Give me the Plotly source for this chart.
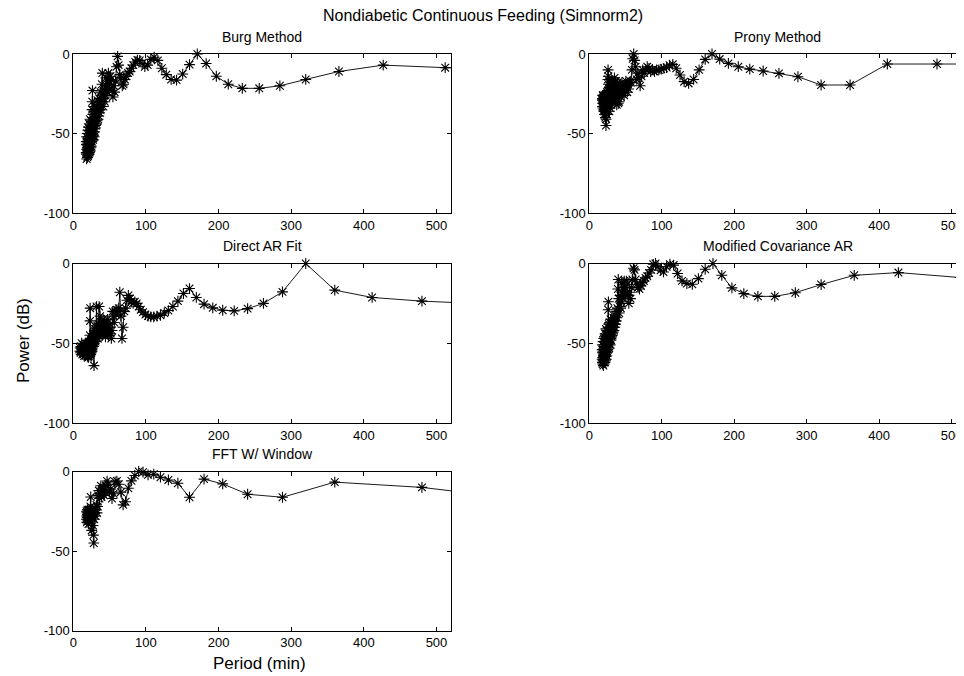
import plotly.graph_objects as go

# ---------------- data ----------------
burg_period = [640, 512, 426.7, 365.7, 320, 284.4, 256, 232.7, 213.3, 196.9,
               182.9, 170.7, 160, 150.6, 142.2, 134.7, 128, 121.9, 116.4, 111.3,
               106.7, 102.4, 98.5, 94.8, 91.4, 88.3, 85.3, 82.6, 80, 77.6,
               75.3, 73.1, 71.1, 69.2, 67.4, 65.6, 64, 62.4, 61, 59.5,
               58.2, 56.9, 55.7, 54.5, 53.3, 52.2, 51.2, 50.2, 49.2, 48.3,
               47.4, 46.5, 45.7, 44.9, 44.1, 43.4, 42.7, 42.0, 41.3, 40.6,
               40, 39.4, 38.8, 38.2, 37.6, 37.1, 36.6, 36.1, 35.6, 35.1,
               34.6, 34.1, 33.7, 33.2, 32.8, 32.4, 32, 31.6, 31.2, 30.8,
               30.5, 30.1, 29.8, 29.4, 29.1, 28.8, 28.4, 28.1, 27.8, 27.5,
               27.2, 26.9, 26.7, 26.4, 26.1, 25.9, 25.6, 25.3, 25.1, 24.8,
               24.6, 24.4, 24.2, 23.9, 23.7, 23.5, 23.3, 23.1, 22.9, 22.7,
               22.5, 22.3, 22.1, 21.9, 21.7, 21.5, 21.3, 21.1, 20.9, 20.7,
               20.5, 20.3, 20.1, 20.0, 19.8, 19.6, 19.4, 19.3, 19.1, 18.9,
               18.8, 18.6, 18.4, 18.3, 18.1, 18.0, 17.8, 17.7]
burg_power = [-9.5, -8.6, -7, -11, -16, -20, -21.6, -21.6, -19, -14,
              -6, 0, -6.7, -12.6, -16.4, -16, -13, -9, -4, -2,
              -3.4, -7, -8, -6, -4, -3.8, -5, -7, -9, -11,
              -12, -14, -16, -19, -20, -15, -13, -7, -1.5, -8,
              -17, -24, -20, -27, -23, -16, -14, -19, -22, -12,
              -17, -24, -20, -15, -26, -30, -22, -28, -33, -25,
              -12, -19, -28, -33, -24, -35, -30, -37, -28, -39,
              -32, -41, -35, -29, -42, -36, -44, -38, -33, -45,
              -38, -47, -42, -33, -49, -52, -40, -36, -51, -54,
              -44, -38, -52, -23, -30, -35, -55, -45, -53, -58,
              -42, -54, -59, -45, -55, -61, -48, -56, -41, -58,
              -50, -62, -55, -44, -59, -52, -63, -57, -46, -60,
              -53, -64, -58, -48, -61, -55, -65, -59, -50, -62,
              -56, -60, -66, -52, -57, -63, -55, -62]

modcov_period = list(burg_period)
modcov_power = [-9.5, -8.8, -5.7, -7.4, -13.2, -18.3, -20.6, -20.6, -18.9, -15.3,
                -7.4, 0, -3.6, -9.5, -13, -12.6, -10.9, -6.3, -1, -0.4,
                -2, -5.3, -4.2, -2, 0, -0.5, -4, -6, -8, -9,
                -11, -12, -14, -16, -15, -13, -10, -4, -3, -10,
                -15, -22, -18, -25, -20, -13, -11, -17, -20, -11,
                -15, -22, -18, -12, -24, -28, -20, -27, -31, -22,
                -10, -16, -28, -34, -30, -36, -33, -38, -34, -40,
                -36, -42, -38, -34, -43, -39, -45, -41, -37, -46,
                -40, -48, -43, -35, -47, -51, -42, -37, -50, -53,
                -44, -38, -50, -24, -29, -40, -54, -45, -52, -56,
                -42, -53, -58, -45, -55, -60, -47, -56, -41, -57,
                -50, -61, -54, -44, -58, -52, -62, -56, -46, -59,
                -52, -62, -57, -47, -60, -54, -64, -58, -49, -61,
                -55, -59, -63, -51, -56, -62, -54, -60]

direct_period = [576, 480, 411.4, 360, 320, 288, 261.8, 240, 221.5, 205.7,
                 192, 180, 169.4, 160, 151.6, 144, 137.1, 130.9, 125.2, 120,
                 115.2, 110.8, 106.7, 102.9, 99.3, 96, 92.9, 90, 87.3, 84.7,
                 82.3, 80, 77.8, 75.8, 73.8, 72, 70.2, 68.6, 67, 65.5,
                 64, 62.6, 61.3, 60, 58.8, 57.6, 56.5, 55.4, 54.3, 53.3,
                 52.4, 51.4, 50.5, 49.7, 48.8, 48, 47.2, 46.5, 45.7, 45,
                 44.3, 43.6, 43, 42.4, 41.7, 41.1, 40.6, 40, 39.5, 38.9,
                 38.4, 37.9, 37.4, 36.9, 36.5, 36, 35.6, 35.1, 34.7, 34.3,
                 33.9, 33.5, 33.1, 32.7, 32.4, 32, 31.6, 31.3, 31, 30.6,
                 30.3, 30, 29.7, 29.4, 29.1, 28.8, 28.5, 28.2, 27.9, 27.7,
                 27.4, 27.2, 26.9, 26.7, 26.4, 26.2, 25.9, 25.7, 25.5, 25.3,
                 25, 24.8, 24.6, 24.4, 24.2, 24, 23.8, 23.6, 23.4, 23.2,
                 23, 22.8, 22.6, 22.4, 22.3, 22.1, 21.9, 21.7, 21.6, 21.4,
                 21.2, 21.1, 20.9, 20.7, 20.6, 20.4, 20.3, 20.1, 20, 19.8,
                 19.7, 19.5, 19.4, 19.2, 19.1, 19, 18.5, 18, 17.5, 17,
                 16.5, 16, 15.5, 15, 14.5, 14, 13.5, 13, 12.5, 12,
                 11.5, 11, 10.5, 10, 9.5, 9]
direct_power = [-25.5, -23.6, -21.3, -16.7, 0, -17.8, -25, -28.3, -29.7, -29.3,
                -27.8, -25.5, -21.3, -15.7, -18.8, -23.6, -27, -29.5, -31, -32.5,
                -33, -33.5, -33.5, -33, -32, -30.5, -29, -27, -25, -24,
                -25, -24, -22, -20, -23, -28, -30, -40, -47, -33,
                -18, -28, -30, -29, -32, -30, -37, -33, -30, -42,
                -47, -44, -38, -42, -45, -40, -35, -43, -38, -41,
                -46, -39, -36, -44, -40, -35, -42, -38, -45, -41,
                -37, -43, -39, -33, -44, -40, -27, -38, -44, -41,
                -47, -43, -39, -45, -42, -27, -40, -46, -43, -49,
                -45, -41, -48, -44, -50, -46, -64, -49, -45, -52,
                -48, -44, -51, -47, -53, -49, -55, -51, -47, -54,
                -50, -56, -52, -48, -55, -51, -57, -53, -49, -28,
                -36, -45, -54, -50, -57, -53, -49, -56, -52, -58,
                -54, -50, -57, -53, -59, -55, -51, -58, -54, -56,
                -52, -58, -55, -53, -57, -54, -55, -52, -57, -54,
                -50, -56, -53, -58, -54, -51, -56, -53, -57, -54,
                -50, -55, -52, -56, -53, -55]

prony_period = [576, 480, 411.4, 360, 320, 288, 261.8, 240, 221.5, 205.7,
                192, 180, 169.4, 160, 151.6, 144, 137.1, 130.9, 125.2, 120,
                115.2, 110.8, 106.7, 102.9, 99.3, 96, 92.9, 90, 87.3, 84.7,
                82.3, 80, 77.8, 75.8, 73.8, 72, 70.2, 68.6, 67, 65.5,
                64, 62.6, 61.3, 60, 58.8, 57.6, 56.5, 55.4, 54.3, 53.3,
                52.4, 51.4, 50.5, 49.7, 48.8, 48, 47.2, 46.5, 45.7, 45,
                44.3, 43.6, 43, 42.4, 41.7, 41.1, 40.6, 40, 39.5, 38.9,
                38.4, 37.9, 37.4, 36.9, 36.5, 36, 35.6, 35.1, 34.7, 34.3,
                33.9, 33.5, 33.1, 32.7, 32.4, 32, 31.6, 31.3, 31, 30.6,
                30.3, 30, 29.7, 29.4, 29.1, 28.8, 28.5, 28.2, 27.9, 27.7,
                27.4, 27.2, 26.9, 26.7, 26.4, 26.2, 25.9, 25.7, 25.5, 25.3,
                25, 24.8, 24.6, 24.4, 24.2, 24, 23.8, 23.6, 23.4, 23.2,
                23, 22.8, 22.6, 22.4, 22.3, 22.1, 21.9, 21.7, 21.6, 21.4,
                21.2, 21.1, 20.9, 20.7, 20.6, 20.4, 20.3, 20.1, 20, 19.8,
                19.7, 19.5, 19.4, 19.2, 19.1, 19, 18.8, 18.7, 18.6, 18.4,
                18.3, 18.2, 18]
prony_power = [-6.3, -6.3, -6.3, -19.5, -19.5, -14.3, -12.2, -10.7, -9.5, -8,
               -5.9, -3.2, 0, -3.4, -10, -16, -18.5, -17.4, -13.2, -9,
               -6.5, -7, -8.5, -9, -9.5, -10, -10, -11, -10, -11,
               -9, -8, -10, -12, -10, -14, -20, -15, -12, -16,
               -8, -4, 0, -3, -10, -18, -17, -18, -22, -19,
               -24, -20, -17, -23, -21, -26, -22, -20, -24, -18,
               -21, -27, -23, -19, -25, -30, -26, -31, -22, -18,
               -24, -32, -27, -21, -17, -23, -28, -20, -15, -22,
               -26, -19, -24, -29, -21, -17, -25, -30, -23, -18,
               -26, -32, -24, -20, -28, -34, -25, -21, -29, -36,
               -27, -22, -30, -25, -19, -14, -10, -16, -23, -31,
               -27, -35, -29, -24, -32, -38, -30, -26, -34, -41,
               -45, -37, -31, -27, -35, -40, -33, -28, -36, -31,
               -26, -34, -38, -30, -27, -35, -32, -28, -36, -30,
               -27, -33, -29, -26, -31, -28, -34, -29, -26, -31,
               -28, -33, -29]

fft_period = [720, 480, 360, 288, 240, 205.7, 180, 160, 144, 130.9,
              120, 110.8, 102.9, 96, 90, 84.7, 80, 75.8, 72, 68.6,
              65.5, 62.6, 60, 57.6, 55.4, 53.3, 51.4, 49.7, 48, 46.5,
              45, 43.6, 42.4, 41.1, 40, 38.9, 37.9, 36.9, 36, 35.1,
              34.3, 33.5, 32.7, 32, 31.3, 30.6, 30, 29.4, 28.8, 28.2,
              27.7, 27.2, 26.7, 26.2, 25.7, 25.3, 24.8, 24.4, 24, 23.6,
              23.2, 22.9, 22.5, 22.2, 21.8, 21.5, 21.2, 20.9, 20.6, 20.3,
              20, 19.7, 19.5, 19.2, 18.9, 18.7, 18.5, 18.2, 18]
fft_power = [-23, -10, -6.7, -16.2, -14.3, -7.8, -4.8, -16.2, -7.4, -5.3,
             -3.6, -1.7, -2.1, -0.4, 0, -2.5, -5.9, -10.5, -19, -21,
             -13, -8, -6, -6.5, -14, -17, -11, -13, -8, -6,
             -9, -13, -15, -10, -12, -16, -9, -14, -17, -12,
             -15, -22, -26, -21, -24, -28, -23, -26, -30, -45,
             -40, -34, -27, -24, -29, -37, -31, -26, -16, -22,
             -28, -25, -31, -27, -24, -30, -26, -33, -28, -25,
             -31, -27, -24, -29, -26, -32, -28, -25, -30]

titles = ["Burg Method", "Prony Method", "Direct AR Fit",
          "Modified Covariance AR", "FFT W/ Window"]
main_title = "Nondiabetic Continuous Feeding (Simnorm2)"
x_ticks = [0, 100, 200, 300, 400, 500]
x_tick_labels = ["0", "100", "200", "300", "400", "500"]
y_ticks = [-100, -50, 0]
y_tick_labels = ["-100", "-50", "0"]

# ---------------- layout helpers ----------------
W, H = 964, 676
OFF = 8  # the page body offsets the figure by this many pixels
FONT = "Liberation Sans, Arial, sans-serif"


def fx(px):
    return (px - OFF) / W


def fy(py):
    return 1 - (py - OFF) / H


left_dom = [fx(73.3), fx(451.0)]
right_dom = [fx(589.3), fx(966.0)]
rows_px = [(54, 213), (263.5, 423), (471.5, 630.5)]

panels = [
    # (period, power, xdomain, row)
    (burg_period, burg_power, left_dom, 0),
    (prony_period, prony_power, right_dom, 0),
    (direct_period, direct_power, left_dom, 1),
    (modcov_period, modcov_power, right_dom, 1),
    (fft_period, fft_power, left_dom, 2),
]

fig = go.Figure()
annotations = []
for i, (px, py, xd, row) in enumerate(panels, start=1):
    sfx = "" if i == 1 else str(i)
    fig.add_trace(go.Scatter(
        x=px, y=py, mode="lines+markers",
        xaxis="x" + sfx, yaxis="y" + sfx,
        line=dict(color="black", width=0.9),
        marker=dict(symbol="asterisk-open", size=9,
                    line=dict(color="black", width=1.1), color="black"),
        cliponaxis=False, showlegend=False, hoverinfo="skip",
    ))
    axcommon = dict(showline=True, linecolor="black", linewidth=1,
                    mirror="allticks", ticks="inside", ticklen=4,
                    tickcolor="black", showgrid=False, zeroline=False,
                    automargin=False,
                    tickfont=dict(family=FONT, size=13, color="black"))
    top, bot = rows_px[row]
    fig.layout["xaxis" + sfx] = dict(domain=xd, range=[0, 520],
                                     tickmode="array", tickvals=x_ticks,
                                     ticktext=x_tick_labels,
                                     anchor="y" + sfx, **axcommon)
    fig.layout["yaxis" + sfx] = dict(domain=[fy(bot), fy(top)],
                                     range=[-100, 0], tickmode="array",
                                     tickvals=y_ticks, ticktext=y_tick_labels,
                                     anchor="x" + sfx, **axcommon)
    annotations.append(dict(
        text=titles[i - 1], xref="x" + sfx + " domain", x=0.5,
        yref="paper", y=fy(top - 17.5), xanchor="center",
        yanchor="middle", showarrow=False,
        font=dict(family=FONT, size=14, color="black")))

annotations.append(dict(text=main_title, xref="paper", x=fx(483),
                        yref="paper", y=fy(16), xanchor="center",
                        yanchor="middle", showarrow=False,
                        font=dict(family=FONT, size=16, color="black")))
annotations.append(dict(text="Power (dB)", xref="paper", x=fx(23),
                        yref="paper", y=fy(341), xanchor="center",
                        yanchor="middle", textangle=-90, showarrow=False,
                        font=dict(family=FONT, size=17, color="black")))
annotations.append(dict(text="Period (min)", xref="paper", x=fx(259),
                        yref="paper", y=fy(663), xanchor="center",
                        yanchor="middle", showarrow=False,
                        font=dict(family=FONT, size=17, color="black")))

fig.update_layout(width=W, height=H,
                  margin=dict(l=0, r=0, t=0, b=0, pad=0, autoexpand=False),
                  paper_bgcolor="white", plot_bgcolor="white",
                  annotations=annotations, hovermode=False)

fig.write_html("out.html")
